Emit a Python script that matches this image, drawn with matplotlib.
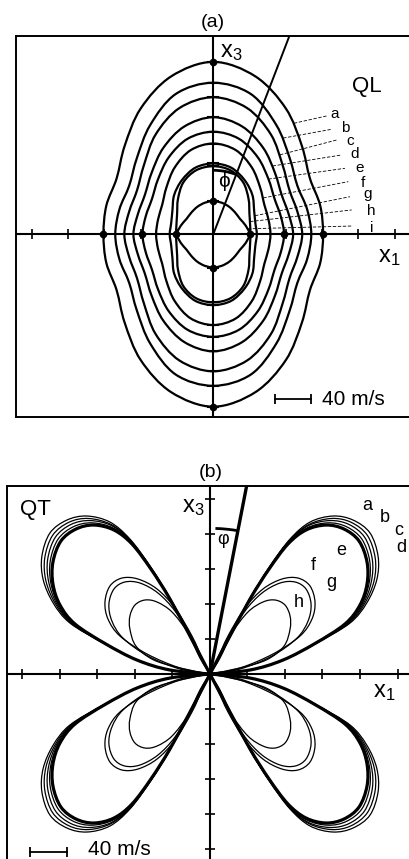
import numpy as np
import matplotlib
matplotlib.use('Agg')
import matplotlib.pyplot as plt
from matplotlib.path import Path
from matplotlib.patches import PathPatch, Arc

plt.rcParams['font.family'] = ['Liberation Sans', 'DejaVu Sans']
plt.rcParams['mathtext.fontset'] = 'custom'
plt.rcParams['mathtext.rm'] = 'Liberation Sans'
plt.rcParams['mathtext.it'] = 'Liberation Sans'

# ---- (a) QL: radius (m/s) vs angle from x3, first quadrant ----
PHI_A = [0, 15, 30, 45, 60, 75, 90]
QL_NAMES = ['a', 'b', 'c', 'd', 'e', 'f', 'g', 'h', 'i']
QL_A = [190, 180, 160, 138, 123, 122, 121]
QL_B = [167, 160, 139, 119, 107, 107, 108]
QL_C = [151, 144, 127, 108, 97, 96, 98]
QL_D = [129, 123, 110, 96, 87, 86, 88]
QL_E = [113, 109, 98, 86, 78, 77, 78]
QL_F = [100, 96, 85, 73, 65, 63, 63]
QL_G = [78, 76, 69, 61, 52, 48, 48]
QL_H = [75, 73, 66, 55, 46, 42, 41]
QL_I = [37, 36, 35, 34, 34, 37, 41]
QL_LEADER_PHI = [36, 36, 40, 41, 45, 54, 66, 71, 81]
PHI_LINE_A = 21  # deg from x3

# ---- (b) QT: lobe outline (x1, x3) in m/s, upper right lobe ----
QT_NAMES = ['a', 'b', 'c', 'd', 'e', 'f', 'g', 'h']
QT_A = [(0, 0), (42.7, 4.9), (78.2, 16.3), (113.8, 35.4), (149.4, 58.3), (167.2, 81.2),
        (177.9, 107.8), (179.3, 134.5), (170.7, 161.2), (152.6, 176), (131.2, 180.6),
        (106.7, 173.7), (85.4, 154.3), (64, 123.4), (42.7, 86.9), (21.3, 43.4), (0, 0)]
QT_B = [(0, 0), (42.7, 4.8), (78.1, 16.2), (113.3, 35.3), (148, 58), (165, 80.6),
        (175, 106.5), (176.2, 132.8), (167.8, 158.6), (150.4, 173.5), (129.7, 177.8),
        (105.6, 171), (84.8, 152.8), (63.7, 122.5), (42.7, 86.6), (21.3, 43.4), (0, 0)]
QT_C = [(0, 0), (42.7, 4.7), (78, 16.1), (112.8, 35.2), (146.7, 57.8), (163.3, 80.1),
        (172.1, 105.6), (173.1, 131.2), (164.9, 156.4), (148.2, 171), (128, 175.4),
        (104.8, 169.5), (84.3, 151.5), (63.5, 121.8), (42.7, 86.3), (21.3, 43.4), (0, 0)]
QT_D = [(0, 0), (42.7, 4.6), (77.9, 16), (112.4, 35), (145.4, 57.5), (161.7, 79.6),
        (169.8, 104.3), (170.3, 129.6), (162, 154.2), (145.6, 168.4), (126, 172.8),
        (103.6, 167), (83.8, 150), (63.2, 120.8), (42.7, 86), (21.3, 43.4), (0, 0)]
QT_E = [(0, 0), (42.7, 4.6), (77.9, 16), (112, 34.9), (144, 57.2), (160, 78.9),
        (167.5, 102.9), (167.5, 128), (159, 152), (143, 165.7), (123.8, 170.3),
        (102.4, 164.6), (83.2, 148.6), (63, 120), (42.7, 85.7), (21.3, 43.4), (0, 0)]
QT_F = [(0, 0), (32, 6.9), (67.2, 22.9), (96, 43.4), (108.8, 62.9), (112, 82.3),
        (106.7, 100.6), (93.9, 109.7), (76.8, 108.6), (56.5, 97.2), (37.3, 75.4),
        (19.2, 43.4), (7.5, 16), (0, 0)]
QT_G = [(0, 0), (32, 5.7), (66.2, 20.6), (92.8, 41.1), (104.6, 60.6), (107.8, 80),
        (102.4, 97.2), (90.7, 105.2), (74.7, 104), (55.5, 92.6), (37.3, 72),
        (20.3, 42.3), (8.5, 16), (0, 0)]
QT_H = [(0, 0), (32, 6.9), (60.5, 16.3), (79, 32), (85.4, 51.4), (85.4, 66.3),
        (80, 78.9), (69.4, 84.6), (56.5, 82.3), (40.5, 70.9), (23.5, 46.9),
        (10.7, 18.3), (0, 0)]
PHI_LINE_B = 10.3

TICKS = [40, 80, 120, 160, 200]
SCALE = 40


def smooth_path(pts, closed=False):
    # Catmull-Rom through the points, drawn as cubic Bezier pieces
    pts = np.asarray(pts, float)
    n = len(pts)
    verts = [pts[0]]
    codes = [Path.MOVETO]
    nseg = n if closed else n - 1
    for i in range(nseg):
        p1 = pts[i % n]
        p2 = pts[(i + 1) % n]
        p0 = pts[(i - 1) % n] if (closed or i > 0) else p1
        p3 = pts[(i + 2) % n] if (closed or i + 2 < n) else p2
        verts += [p1 + (p2 - p0) / 6, p2 - (p3 - p1) / 6, p2]
        codes += [Path.CURVE4] * 3
    return Path(verts, codes)


def ql_loop(r):
    ang = np.arange(0, 360, 15)
    t = ang % 180
    t = np.where(t > 90, 180 - t, t)
    rr = np.interp(t, PHI_A, r)
    a = np.radians(ang)
    return np.column_stack([rr * np.sin(a), rr * np.cos(a)])


fig = plt.figure(figsize=(4.09, 8.59), dpi=100)

# ================= (a) =================
ax = fig.add_axes([0.0391, 0.5146, 0.9658, 0.4435])
ax.set_xlim(-217.4, 217.9)
ax.set_ylim(-201.3, 218.5)
ax.set_xticks([])
ax.set_yticks([])
for s in ax.spines.values():
    s.set_linewidth(1.4)
ax.axhline(0, color='k', lw=1.5)
ax.axvline(0, color='k', lw=1.5)

ql_all = [QL_A, QL_B, QL_C, QL_D, QL_E, QL_F, QL_G, QL_H, QL_I]
for r in ql_all[:-1]:
    ax.add_patch(PathPatch(smooth_path(ql_loop(r), closed=True), fill=False, lw=1.6, ec='k'))
# innermost curve has corners on the axes
phr = np.radians(PHI_A)
for sx in (1, -1):
    for sy in (1, -1):
        q = np.column_stack([sx * np.array(QL_I) * np.sin(phr), sy * np.array(QL_I) * np.cos(phr)])
        ax.add_patch(PathPatch(smooth_path(q), fill=False, lw=1.6, ec='k'))

# axis marks
for t in TICKS:
    ax.plot([t, -t], [0, 0], ls='none', marker='|', ms=7, mew=1.2, color='k')
for r in ql_all:
    ax.plot([0, 0], [r[0], -r[0]], ls='none', marker='_', ms=8, mew=1.5, color='k')
for r in (QL_A, QL_E, QL_I):
    ax.plot([r[-1], -r[-1]], [0, 0], 'o', ms=4.5, color='k')
for r in (QL_A, QL_I):
    ax.plot([0, 0], [r[0], -r[0]], 'o', ms=4.5, color='k')

# angle line and arc
p = np.radians(PHI_LINE_A)
ax.plot([0, 300 * np.sin(p)], [0, 300 * np.cos(p)], color='k', lw=1.4)
ax.add_patch(Arc((0, 0), 141, 141, theta1=90 - PHI_LINE_A, theta2=90, lw=2, color='k'))
ax.text(11.8, 58, '\u03d5', fontsize=15, ha='center', va='center')

# curve labels with dashed leaders
lab_xy = [(134.1, 127.8), (145.2, 113.1), (150.7, 98.5), (156.2, 83.8), (161.7, 69.1),
          (165.2, 52.6), (170.6, 39.8), (173.9, 21.3), (174.7, 2.9)]
lead_end = [(125, 130.4), (130.5, 115.7), (136, 103.9), (141.5, 87.4), (145.1, 72.7),
            (148.8, 58), (150.6, 41.4), (152.5, 26.8), (152.5, 9.1)]
for name, r, ph, (lx, ly), (ex, ey) in zip(QL_NAMES, ql_all, QL_LEADER_PHI, lab_xy, lead_end):
    rr = np.interp(ph, PHI_A, r)
    a = np.radians(ph)
    ax.plot([rr * np.sin(a), ex], [rr * np.cos(a), ey], color='k', lw=0.6, ls=(0, (4, 2)))
    ax.text(lx, ly, name, fontsize=11, ha='center', va='baseline')

ax.text(7.4, 194.8, r'$\mathrm{x_3}$', fontsize=17, ha='left', va='baseline')
ax.text(181.3, -30.2, r'$\mathrm{x_1}$', fontsize=17, ha='left', va='baseline')
ax.text(153, 156.8, 'QL', fontsize=16, ha='left', va='baseline')
ax.plot([68, 68 + SCALE], [-181.8, -181.8], color='k', lw=1.3)
ax.plot([68, 68 + SCALE], [-181.8, -181.8], ls='none', marker='|', ms=7, mew=1.3, color='k')
ax.text(119.5, -188, '40 m/s', fontsize=15, ha='left', va='baseline')
fig.text(0.521, 0.974, '(a)', fontsize=14, ha='center', va='center')

# ================= (b) =================
bx = fig.add_axes([0.0178, -0.0023, 0.9871, 0.4365])
bx.set_xlim(-216.2, 214.4)
bx.set_ylim(-213.7, 214.9)
bx.set_xticks([])
bx.set_yticks([])
for s in bx.spines.values():
    s.set_linewidth(1.4)
bx.axhline(0, color='k', lw=1.5)
bx.axvline(0, color='k', lw=1.5)

qt_all = [QT_A, QT_B, QT_C, QT_D, QT_E, QT_F, QT_G, QT_H]
for name, lobe in zip(QT_NAMES, qt_all):
    lw = 2.3 if name == 'e' else 0.9
    base = np.asarray(lobe, float)
    for sx in (1, -1):
        for sy in (1, -1):
            bx.add_patch(PathPatch(smooth_path(base * [sx, sy]), fill=False, lw=lw, ec='k'))

for t in TICKS:
    bx.plot([t, -t], [0, 0], ls='none', marker='|', ms=7, mew=1.2, color='k')
    bx.plot([0, 0], [t, -t], ls='none', marker='_', ms=7, mew=1.2, color='k')

p = np.radians(PHI_LINE_B)
bx.plot([0, 300 * np.sin(p)], [0, 300 * np.cos(p)], color='k', lw=2.4)
bx.add_patch(Arc((0, 0), 333, 333, theta1=90 - PHI_LINE_B, theta2=88, lw=2, color='k'))
bx.text(14.2, 153.2, '\u03c6', fontsize=13, ha='center', va='center')

qt_lab = [(168, 187.4), (186.7, 174), (200.9, 158.9), (204.5, 139.8), (139.5, 136),
          (110.2, 118.9), (128.9, 99.8), (94.2, 76.9)]
for name, (lx, ly) in zip(QT_NAMES, qt_lab):
    bx.text(lx, ly, name, fontsize=13, ha='center', va='baseline')

bx.text(-30.2, 185.2, r'$\mathrm{x_3}$', fontsize=17, ha='left', va='baseline')
bx.text(174.3, -26, r'$\mathrm{x_1}$', fontsize=17, ha='left', va='baseline')
bx.text(-202.7, 181.7, 'QT', fontsize=16, ha='left', va='baseline')
bx.plot([-192, -192 + SCALE], [-203, -203], color='k', lw=1.3)
bx.plot([-192, -192 + SCALE], [-203, -203], ls='none', marker='|', ms=7, mew=1.3, color='k')
bx.text(-130, -207, '40 m/s', fontsize=15, ha='left', va='baseline')
fig.text(0.516, 0.4494, '(b)', fontsize=14, ha='center', va='center')

fig.savefig('out.png', dpi=100)
